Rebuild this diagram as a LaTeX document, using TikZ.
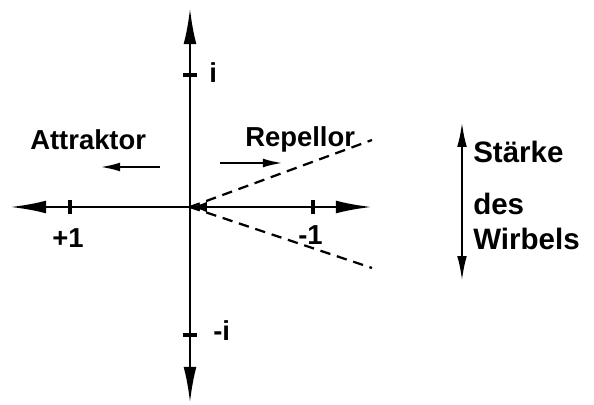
\documentclass[tikz,border=0pt]{standalone}
\usepackage{fontspec}
\setmainfont{Liberation Sans}
\usetikzlibrary{arrows.meta}

\tikzset{
  axis/.style={line width=1.9pt,
    {Latex[length=0.9cm,width=0.32cm]}-{Latex[length=0.9cm,width=0.32cm]}},
  tick/.style={line width=2.4pt},
  ray/.style={line width=1.6pt, dash pattern=on 0.26cm off 0.17cm},
  flow/.style={line width=1.7pt, -{Latex[length=0.5cm,width=0.22cm]}},
  lbl/.style={font=\bfseries\fontsize{19.5}{23}\selectfont, inner sep=0pt, anchor=base west}
}

\begin{document}
\begin{tikzpicture}[x=0.025cm,y=-0.025cm]
  \useasboundingbox (0,0) rectangle (594,405);
  % axes
  \coordinate (O) at (190,207);
  \coordinate (xl) at (10,207);
  \coordinate (xr) at (372,207);
  \coordinate (yt) at (190,8);
  \coordinate (yb) at (190,403);
  \draw[axis] (xl) -- (xr);
  \draw[axis] (yb) -- (yt);
  \coordinate (xa) at (214,207);
  \draw[line width=1.9pt, -{Latex[length=0.42cm,width=0.26cm]}] (xa) -- (O);
  % ticks
  \draw[tick] (70,200) coordinate (p1) -- (70,214);
  \draw[tick] (313,200) coordinate (m1) -- (313,214);
  \draw[tick] (183,75) coordinate (pi) -- (197,75);
  \draw[tick] (183,335) coordinate (mi) -- (197,335);
  \node[lbl] (lp1) at (52,248) {+1};
  \node[lbl] (lm1) at (298,245) {-1};
  \node[lbl] (lpi) at (209,83) {i};
  \node[lbl] (lmi) at (213,341) {-i};
  % dashed rays
  \coordinate (ru) at (372,140);
  \coordinate (rd) at (372,268);
  \draw[ray] (O) -- (ru);
  \draw[ray] (O) -- (rd);
  % labels and flow arrows
  \node[lbl] (att) at (30,150) {Attraktor};
  \node[lbl] (rep) at (245,147) {Repellor};
  \coordinate (a1) at (160,167);
  \coordinate (a2) at (100,167);
  \coordinate (r1) at (220,163);
  \coordinate (r2) at (283,163);
  \draw[flow] (a1) -- (a2);
  \draw[flow] (r1) -- (r2);
  % strength of vortex
  \coordinate (st) at (462,122);
  \coordinate (sb) at (462,281);
  \draw[line width=1.7pt, {Latex[length=0.62cm,width=0.24cm]}-{Latex[length=0.62cm,width=0.24cm]}] (sb) -- (st);
  \node[lbl, font=\bfseries\fontsize{21}{25}\selectfont] (s1) at (473,163) {Stärke};
  \node[lbl, font=\bfseries\fontsize{21}{25}\selectfont] (s2) at (473,215) {des};
  \node[lbl, font=\bfseries\fontsize{21}{25}\selectfont] (s3) at (473,250) {Wirbels};
\end{tikzpicture}
\end{document}
